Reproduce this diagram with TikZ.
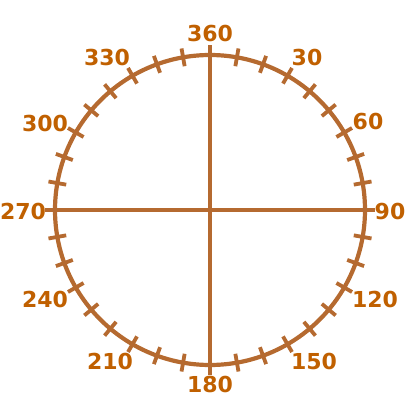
\documentclass[tikz,border=0pt]{standalone}
\usepackage{fontspec}
\setmainfont{DejaVu Sans}
\usetikzlibrary{calc}
\definecolor{ln}{RGB}{181,106,48}
\definecolor{tx}{RGB}{192,96,0}
\begin{document}
\begin{tikzpicture}[x=1pt,y=1pt,
  lbl/.style={text=tx,font=\bfseries\fontsize{22}{22}\selectfont,inner sep=0pt},
  stroke/.style={draw=ln,line width=4.2pt}]
\useasboundingbox (0,0) rectangle (420,420);
\coordinate (c) at (210,210);
\draw[stroke] (c) circle (155);
\draw[stroke] (210,45) -- (210,375);
\draw[stroke] (45,210) -- (375,210);
\foreach \a in {0,10,...,350}{
  \draw[draw=ln,line width=3.8pt] ($(c)+(90-\a:146)$) -- ($(c)+(90-\a:164)$);
}
\node[lbl] (l360) at (210,387) {360};
\node[lbl] (l30) at (307,363) {30};
\node[lbl] (l60) at (368,299) {60};
\node[lbl] (l90) at (390,209) {90};
\node[lbl] (l120) at (375,121) {120};
\node[lbl] (l150) at (314,59) {150};
\node[lbl] (l180) at (210,36) {180};
\node[lbl] (l210) at (110,59) {210};
\node[lbl] (l240) at (45,121) {240};
\node[lbl] (l270) at (23,209) {270};
\node[lbl] (l300) at (45,297) {300};
\node[lbl] (l330) at (107,363) {330};
\end{tikzpicture}
\end{document}
